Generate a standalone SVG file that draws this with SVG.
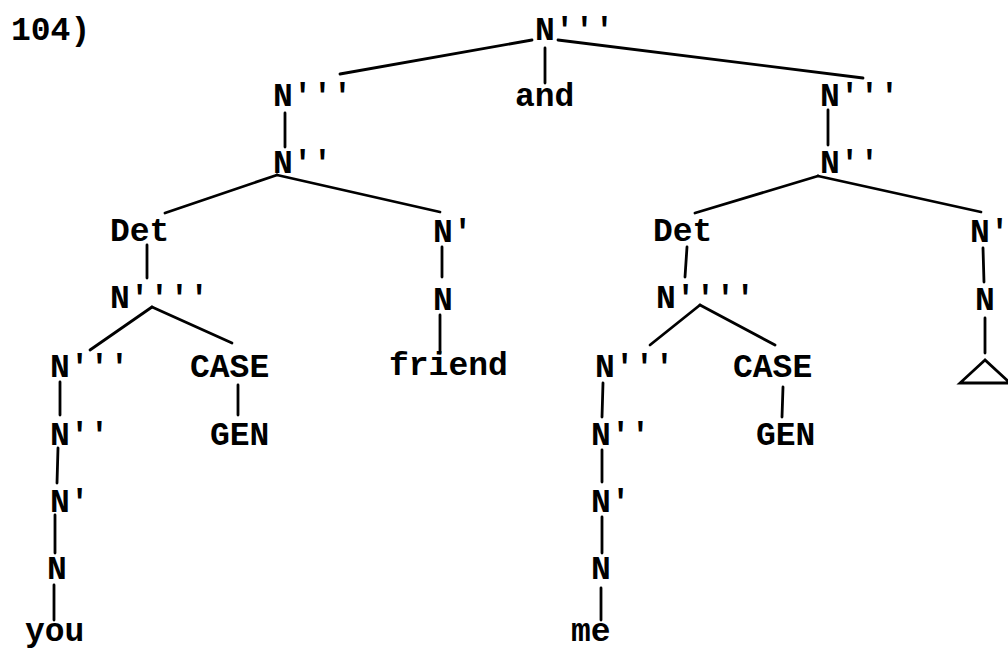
<svg xmlns="http://www.w3.org/2000/svg" width="1008" height="649" viewBox="0 0 1008 649">
<style>
text{font-family:"Liberation Mono","DejaVu Sans Mono",monospace;font-size:33px;font-weight:bold;fill:#000}
.e{stroke:#000;stroke-width:2.8;stroke-linecap:round;fill:none}
</style>
<rect width="1008" height="649" fill="#fff"/>
<g id="connectors" class="e">
<line x1="532" y1="40" x2="340" y2="74"/>
<line x1="558" y1="40" x2="863" y2="78"/>
<line x1="545" y1="48" x2="545" y2="83"/>
<line x1="285" y1="113" x2="285" y2="147"/>
<line x1="828" y1="110" x2="828" y2="145"/>
<line x1="277" y1="175" x2="165" y2="213"/>
<line x1="277" y1="175" x2="440" y2="212"/>
<line x1="818" y1="176" x2="695" y2="213"/>
<line x1="818" y1="176" x2="981" y2="212"/>
<line x1="147" y1="245" x2="147" y2="278"/>
<line x1="442" y1="247" x2="442" y2="277"/>
<line x1="687" y1="247" x2="685" y2="277"/>
<line x1="983" y1="248" x2="984" y2="282"/>
<line x1="152" y1="307" x2="90" y2="350"/>
<line x1="152" y1="307" x2="232" y2="343"/>
<line x1="700" y1="305" x2="650" y2="345"/>
<line x1="700" y1="305" x2="775" y2="345"/>
<line x1="440" y1="315" x2="440" y2="353"/>
<line x1="985" y1="318" x2="985" y2="353"/>
<line x1="60" y1="382" x2="60" y2="415"/>
<line x1="238" y1="385" x2="238" y2="415"/>
<line x1="603" y1="383" x2="602" y2="417"/>
<line x1="783" y1="387" x2="782" y2="417"/>
<line x1="58" y1="448" x2="57" y2="483"/>
<line x1="602" y1="450" x2="602" y2="482"/>
<line x1="55" y1="515" x2="55" y2="553"/>
<line x1="602" y1="517" x2="602" y2="553"/>
<line x1="54" y1="585" x2="54" y2="620"/>
<line x1="601" y1="588" x2="601" y2="620"/>
</g>
<text id="label-104" x="11" y="40">104)</text>
<g id="n-root"><text x="535" y="40">N'''</text></g>
<g id="n-left-N3"><text x="273" y="106">N'''</text></g>
<g id="n-and"><text x="515" y="106">and</text></g>
<g id="n-right-N3"><text x="820" y="106">N'''</text></g>
<g id="n-left-N2"><text x="273" y="173">N''</text></g>
<g id="n-right-N2"><text x="820" y="173">N''</text></g>
<g id="n-left-det"><text x="110" y="241">Det</text></g>
<g id="n-left-N1"><text x="433" y="242">N'</text></g>
<g id="n-right-det"><text x="653" y="241">Det</text></g>
<g id="n-right-N1"><text x="970" y="242">N'</text></g>
<g id="n-left-N4"><text x="110" y="308">N''''</text></g>
<g id="n-left-N0"><text x="433" y="310">N</text></g>
<g id="n-right-N4"><text x="656" y="308">N''''</text></g>
<g id="n-right-N0"><text x="975" y="310">N</text></g>
<g id="n-right-triangle"><polygon class="e" points="985,360 960,383 1010,383" stroke-width="3"/></g>
<g id="n-ll-N3"><text x="50" y="377">N'''</text></g>
<g id="n-l-case"><text x="190" y="377">CASE</text></g>
<g id="n-friend"><text x="389" y="375">friend</text></g>
<g id="n-rl-N3"><text x="595" y="377">N'''</text></g>
<g id="n-r-case"><text x="733" y="377">CASE</text></g>
<g id="n-ll-N2"><text x="50" y="445">N''</text></g>
<g id="n-l-gen"><text x="210" y="445">GEN</text></g>
<g id="n-rl-N2"><text x="591" y="445">N''</text></g>
<g id="n-r-gen"><text x="756" y="445">GEN</text></g>
<g id="n-ll-N1"><text x="50" y="512">N'</text></g>
<g id="n-rl-N1"><text x="591" y="512">N'</text></g>
<g id="n-ll-N0"><text x="47" y="579">N</text></g>
<g id="n-rl-N0"><text x="591" y="579">N</text></g>
<g id="n-you"><text x="25" y="641">you</text></g>
<g id="n-me"><text x="571" y="641">me</text></g>
</svg>
